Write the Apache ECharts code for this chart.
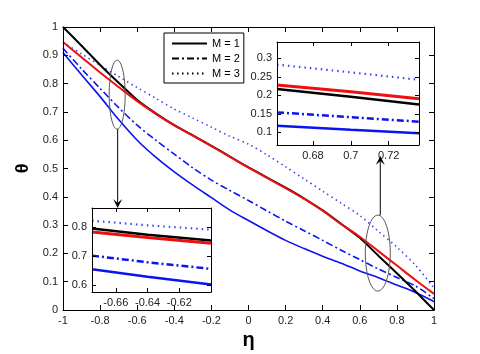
<!DOCTYPE html>
<html>
<head>
<meta charset="utf-8">
<script src="https://cdn.jsdelivr.net/npm/echarts@6/dist/echarts.min.js"></script>
<style>
  html, body { margin: 0; padding: 0; background: #fff; }
  #chart { width: 480px; height: 354px; }
</style>
</head>
<body>
<div id="chart"></div>
<script>
// main plot: theta(eta)
const eta = [-1, -0.9, -0.8, -0.7, -0.6, -0.5, -0.4, -0.3, -0.2, -0.1, 0,
             0.1, 0.2, 0.3, 0.4, 0.5, 0.6, 0.7, 0.8, 0.9, 1];
const thetaBlack   = [1.0, 0.934, 0.866, 0.803, 0.742, 0.695, 0.653, 0.617, 0.58, 0.542, 0.504,
                      0.468, 0.432, 0.394, 0.352, 0.304, 0.255, 0.192, 0.13, 0.066, 0.0];
const thetaRed     = [0.947, 0.893, 0.839, 0.788, 0.738, 0.693, 0.652, 0.616, 0.579, 0.541, 0.503,
                      0.467, 0.431, 0.393, 0.351, 0.303, 0.259, 0.208, 0.157, 0.106, 0.057];
const thetaDotted  = [0.945, 0.905, 0.865, 0.825, 0.786, 0.748, 0.71, 0.678, 0.646, 0.614, 0.586,
                      0.548, 0.506, 0.463, 0.42, 0.377, 0.334, 0.278, 0.222, 0.158, 0.078];
const thetaDashDot = [0.925, 0.852, 0.783, 0.715, 0.653, 0.6, 0.551, 0.502, 0.459, 0.422, 0.387,
                      0.35, 0.314, 0.28, 0.246, 0.211, 0.178, 0.145, 0.115, 0.085, 0.04];
const thetaBlue    = [0.91, 0.831, 0.754, 0.673, 0.6, 0.54, 0.488, 0.441, 0.397, 0.353, 0.316,
                      0.28, 0.246, 0.217, 0.19, 0.165, 0.138, 0.114, 0.088, 0.062, 0.03];

// zoom inset near eta = -0.64
const inset1Eta      = [-0.675, -0.64, -0.6];
const inset1Black    = [0.795, 0.773, 0.753];
const inset1Red      = [0.783, 0.764, 0.744];
const inset1Dotted   = [0.822, 0.806, 0.791];
const inset1DashDot  = [0.701, 0.678, 0.655];
const inset1Blue     = [0.654, 0.628, 0.601];
const inset1XTicks   = [-0.66, -0.64, -0.62];
const inset1YTicks   = [0.6, 0.7, 0.8];

// zoom inset near eta = 0.7
const inset2Eta      = [0.661, 0.7, 0.736];
const inset2Black    = [0.217, 0.196, 0.175];
const inset2Red      = [0.228, 0.21, 0.191];
const inset2Dotted   = [0.283, 0.262, 0.242];
const inset2DashDot  = [0.154, 0.141, 0.129];
const inset2Blue     = [0.118, 0.107, 0.098];
const inset2XTicks   = [0.68, 0.7, 0.72];
const inset2YTicks   = [0.1, 0.15, 0.2, 0.25, 0.3];

const legendNames = ['M = 1', 'M = 2', 'M = 3'];

// ellipses that mark the zoomed spots (data coords of main plot)
const mark1 = [-0.708, 0.761];
const mark2 = [0.697, 0.201];

const FONT = 'Liberation Sans, Arial, sans-serif';
const DOT = [1.5, 3.5];
const DASHDOT = [7, 3, 2, 3];

const myChart = echarts.init(document.getElementById('chart'));

function axis(gridIndex, pos, min, max, opts) {
  const o = {
    gridIndex: gridIndex,
    type: 'value',
    position: pos,
    min: min,
    max: max,
    axisLine: { show: true, onZero: false, lineStyle: { color: '#000', width: 1 } },
    axisTick: { show: true, inside: true, length: 5, lineStyle: { color: '#000' } },
    axisLabel: { show: pos === 'bottom' || pos === 'left', color: '#222', fontSize: 11,
                 fontFamily: FONT, margin: 5, showMinLabel: true, showMaxLabel: true },
    splitLine: { show: false },
    z: gridIndex ? 12 : 3
  };
  return Object.assign(o, opts || {});
}

function customTicks(vals) {
  return {
    axisTick: { show: true, inside: true, length: 4, lineStyle: { color: '#000' }, customValues: vals },
    axisLabel: { color: '#222', fontSize: 11, fontFamily: FONT, margin: 5, customValues: vals }
  };
}

function line(name, xs, ys, color, type, width, idx, z, smooth) {
  return {
    name: name,
    type: 'line',
    xAxisIndex: idx,
    yAxisIndex: idx,
    data: xs.map((x, i) => [x, ys[i]]),
    symbol: 'none',
    smooth: smooth || false,
    lineStyle: { color: color, width: width, type: type },
    itemStyle: { color: color },
    z: z,
    silent: true
  };
}

function insetTickAxes(grid, xmin, xmax, ymin, ymax, xt, yt) {
  const xb = axis(grid, 'bottom', xmin, xmax, customTicks(xt));
  const xtp = axis(grid, 'top', xmin, xmax, customTicks(xt));
  xtp.axisLabel.show = false;
  const yl = axis(grid, 'left', ymin, ymax, customTicks(yt));
  const yr = axis(grid, 'right', ymin, ymax, customTicks(yt));
  yr.axisLabel.show = false;
  return { x: [xb, xtp], y: [yl, yr] };
}

const ins1 = insetTickAxes(1, -0.675, -0.6, 0.575, 0.866, inset1XTicks, inset1YTicks);
const ins2 = insetTickAxes(2, 0.661, 0.736, 0.066, 0.344, inset2XTicks, inset2YTicks);

const xAxes = [
  axis(0, 'bottom', -1, 1, { interval: 0.2, name: 'η', nameLocation: 'middle', nameGap: 20,
        nameTextStyle: { fontSize: 20, fontWeight: 'bold', color: '#000', fontFamily: FONT } }),
  ins1.x[0], ins2.x[0],
  axis(0, 'top', -1, 1, { interval: 0.2 }),
  ins1.x[1], ins2.x[1]
];
const yAxes = [
  axis(0, 'left', 0, 1, { interval: 0.1, name: 'θ', nameLocation: 'middle', nameGap: 30,
        nameTextStyle: { fontSize: 18, fontWeight: 'bold', color: '#000', fontFamily: FONT } }),
  ins1.y[0], ins2.y[0],
  axis(0, 'right', 0, 1, { interval: 0.1 }),
  ins1.y[1], ins2.y[1]
];

const series = [
  // legend entries only
  line(legendNames[0], [], [], '#000', 'solid', 2, 0, 1),
  line(legendNames[1], [], [], '#000', DASHDOT, 2, 0, 1),
  line(legendNames[2], [], [], '#000', DOT, 2, 0, 1),
  // main curves
  line('blue', eta, thetaBlue, '#0a14f0', 'solid', 1.6, 0, 2, 0.3),
  line('blue dash-dot', eta, thetaDashDot, '#0a14f0', DASHDOT, 1.6, 0, 2, 0.3),
  line('blue dotted', eta, thetaDotted, '#3a46f5', DOT, 1.6, 0, 2, 0.3),
  line('black', eta, thetaBlack, '#000', 'solid', 2, 0, 2, 0.2),
  line('red', eta, thetaRed, '#ee1010', 'solid', 2, 0, 2, 0.3),
  // inset 1
  line('i1 blue', inset1Eta, inset1Blue, '#0a14f0', 'solid', 2.5, 1, 11),
  line('i1 dash-dot', inset1Eta, inset1DashDot, '#0a14f0', DASHDOT, 2.5, 1, 11),
  line('i1 dotted', inset1Eta, inset1Dotted, '#3a46f5', [1.5, 4], 2.2, 1, 11),
  line('i1 black', inset1Eta, inset1Black, '#000', 'solid', 2.5, 1, 11),
  line('i1 red', inset1Eta, inset1Red, '#ee1010', 'solid', 3, 1, 11),
  // inset 2
  line('i2 blue', inset2Eta, inset2Blue, '#0a14f0', 'solid', 2.5, 2, 11),
  line('i2 dash-dot', inset2Eta, inset2DashDot, '#0a14f0', DASHDOT, 2.5, 2, 11),
  line('i2 dotted', inset2Eta, inset2Dotted, '#3a46f5', [1.5, 4], 2.2, 2, 11),
  line('i2 black', inset2Eta, inset2Black, '#000', 'solid', 2.5, 2, 11),
  line('i2 red', inset2Eta, inset2Red, '#ee1010', 'solid', 3, 2, 11)
];

const option = {
  animation: false,
  backgroundColor: '#fff',
  grid: [
    { left: 63, top: 27, right: 46, bottom: 44, outerBoundsMode: 'none' },
    { left: 92, top: 208, width: 119, height: 84, show: true, backgroundColor: '#fff',
      borderWidth: 0, z: 10, outerBoundsMode: 'none' },
    { left: 277, top: 42, width: 142, height: 103, show: true, backgroundColor: '#fff',
      borderWidth: 0, z: 10, outerBoundsMode: 'none' }
  ],
  legend: {
    data: legendNames,
    orient: 'vertical',
    left: 164,
    top: 33,
    padding: [5, 4, 4, 7],
    itemGap: 4,
    itemWidth: 35,
    itemHeight: 12,
    itemTextGap: 4,
    backgroundColor: '#fff',
    borderColor: '#000',
    borderWidth: 1,
    borderRadius: 0,
    selectedMode: false,
    // hide the marker the line icon gets, keep only the line
    itemStyle: { opacity: 0, color: 'rgba(0,0,0,0)', borderWidth: 0 },
    textStyle: { color: '#000', fontSize: 11, fontFamily: FONT },
    z: 15
  },
  xAxis: xAxes,
  yAxis: yAxes,
  series: series
};
myChart.setOption(option);

// ellipses and arrows pointing to the insets
const p1 = myChart.convertToPixel({ gridIndex: 0 }, mark1);
const p2 = myChart.convertToPixel({ gridIndex: 0 }, mark2);
const r1 = [8, 34.5];
const r2 = [12.5, 38];
const tip1 = [p1[0] + 0.5, 208];
const tip2 = [p2[0] + 2.5, 156];

function arrowHead(tip, dir) {
  return {
    type: 'polygon',
    shape: { points: [tip, [tip[0] - 4.5, tip[1] - 9 * dir], [tip[0], tip[1] - 5 * dir], [tip[0] + 4.5, tip[1] - 9 * dir]] },
    style: { fill: '#000' },
    z: 20
  };
}

myChart.setOption({
  graphic: [
    { type: 'ellipse', shape: { cx: p1[0], cy: p1[1], rx: r1[0], ry: r1[1] },
      style: { fill: null, stroke: '#555', lineWidth: 1 }, z: 20 },
    { type: 'line', shape: { x1: tip1[0], y1: p1[1] + r1[1], x2: tip1[0], y2: tip1[1] - 4 },
      style: { stroke: '#000', lineWidth: 1 }, z: 20 },
    arrowHead(tip1, 1),
    { type: 'ellipse', shape: { cx: p2[0], cy: p2[1], rx: r2[0], ry: r2[1] },
      style: { fill: null, stroke: '#555', lineWidth: 1 }, z: 20 },
    { type: 'line', shape: { x1: tip2[0], y1: p2[1] - r2[1], x2: tip2[0], y2: tip2[1] + 4 },
      style: { stroke: '#000', lineWidth: 1 }, z: 20 },
    arrowHead(tip2, -1)
  ]
});
</script>
</body>
</html>
